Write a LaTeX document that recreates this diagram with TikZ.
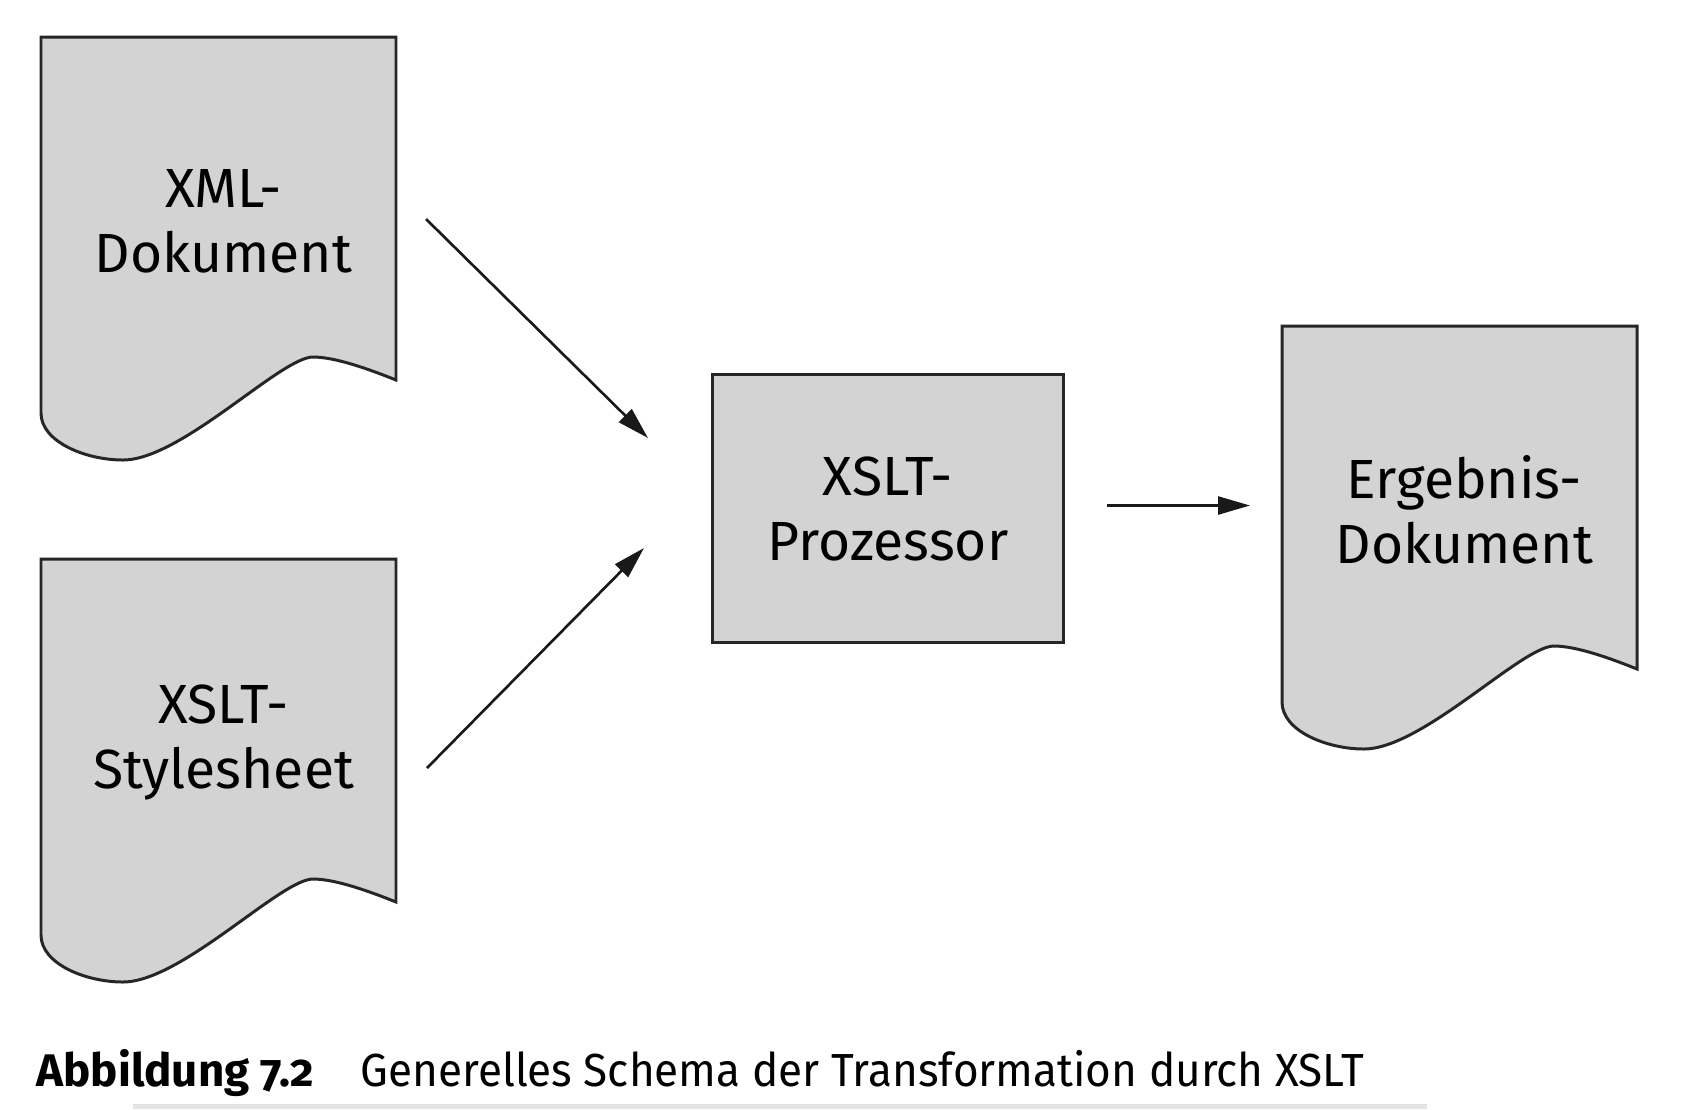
\documentclass[tikz,border=0pt]{standalone}
\usepackage{fontspec}
\setmainfont{Fira Sans}[Numbers=OldStyle]
\newfontfamily\captfont{Fira Sans}[Numbers=OldStyle, FakeStretch=0.95]
\usepackage{tikz}
\usetikzlibrary{arrows.meta,positioning,calc,backgrounds}
\definecolor{cDoc}{HTML}{D3D3D3}
\definecolor{cRule}{HTML}{E4E4E4}
\tikzset{
  doc/.style    ={rectangle, inner sep=0pt, outer sep=0pt, minimum width=36.5mm,
                  minimum height=36.8mm, align=center, font=\fontsize{15.7}{18.5}\selectfont},
  docline/.style={draw=black!85, fill=cDoc, line width=0.85pt},
  proc/.style   ={rectangle, draw=black!85, fill=cDoc, line width=0.85pt, inner sep=0pt,
                  minimum width=35.1mm, minimum height=26.8mm, align=center,
                  font=\fontsize{15.7}{18.5}\selectfont},
  fl/.style     ={-{Triangle[length=3.2mm,width=1.8mm]}, draw=black!90, line width=0.75pt},
  capt/.style   ={anchor=base west, inner sep=0pt, font=\captfont\fontsize{13.2}{15}\selectfont},
}
% sheet with wavy lower edge, drawn behind a doc node
\newcommand\docshape[1]{%
  \begin{scope}[on background layer, shift={(#1.north west)}]
    \draw[docline] (0,0) -- (355,0) -- (355,343)
      .. controls (330,333) and (295,320) .. (272,320)
      .. controls (240,320) and (140,423) .. (82,423)
      .. controls (45,423) and (0,405) .. (0,376) -- cycle;
  \end{scope}}

\begin{document}
\begin{tikzpicture}[x=0.1mm, y=-0.1mm]
  \useasboundingbox (0,0) rectangle (1695,1109);
  \node[doc, anchor=north west] (xml) at (41,37) {XML-\\Dokument};
  \node[doc, anchor=north west] (xsl) at (41,559) {XSLT-\\Stylesheet};
  \node[proc, anchor=north west] (proc) at (711,373) {XSLT-\\Prozessor};
  \node[doc, anchor=north west] (erg) at (1282,326) {Ergebnis-\\Dokument};
  \docshape{xml}\docshape{xsl}\docshape{erg}
  \draw[fl] ($(xml.north west)+(385,182)$) -- ($(proc.north west)+(-63,65)$);
  \draw[fl] ($(xsl.north west)+(386,209)$) -- ($(proc.south west)+(-67,-96)$);
  \draw[fl] ($(proc.east)+(42,-3)$) -- ($(proc.east -| erg.west)+(-32,-3)$);
  % caption
  \node[capt, font=\fontsize{13}{15}\selectfont] (fig) at (36,1086) {\textbf{Abbildung 7.2}};
  \node[capt] (title) at (360,1086) {Generelles Schema der Transformation durch XSLT};
  \fill[cRule] (133,1104) rectangle (1427,1109);
\end{tikzpicture}
\end{document}
